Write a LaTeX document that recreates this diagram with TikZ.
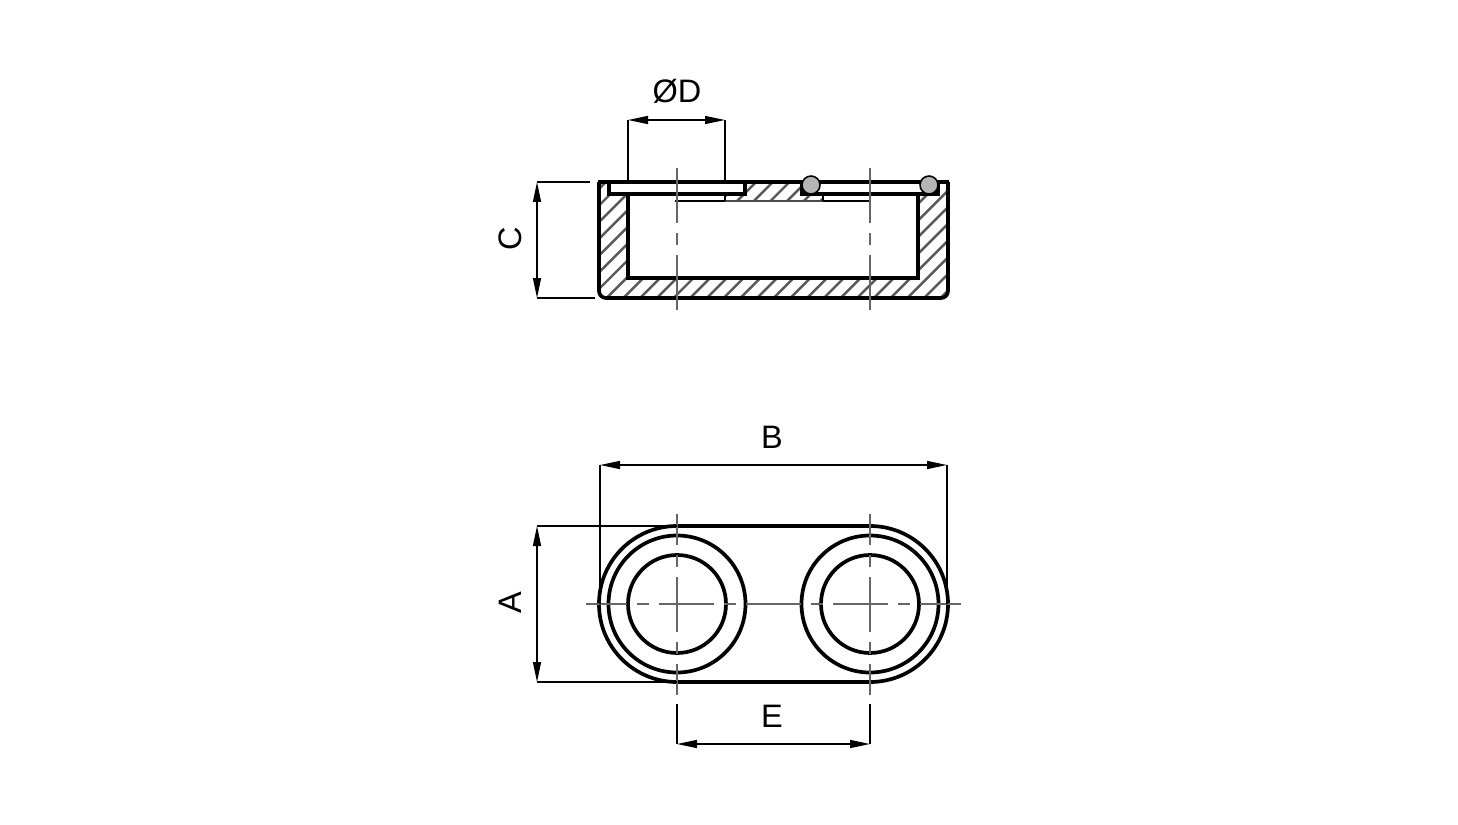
\documentclass[tikz,border=0pt]{standalone}
\usepackage{fontspec}
\setmainfont{Liberation Sans}
\usetikzlibrary{arrows.meta}
\definecolor{axisGray}{HTML}{666666}
\definecolor{ringGray}{HTML}{B5B5B5}
\tikzset{
  outline/.style={line width=2.1pt, black},
  heavy/.style={line width=2.5pt, black},
  thin line/.style={line width=0.8pt, black},
  hatch/.style={line width=1.4pt, black!65},
  axis/.style={line width=1.2pt, axisGray, dash pattern=on 1.1cm off 0.2cm on 0.24cm off 0.2cm},
  dim/.style={thin line, {Triangle[length=4mm,width=1.6mm]}-{Triangle[length=4mm,width=1.6mm]}},
  label/.style={font=\fontsize{18.5}{22}\selectfont, inner sep=0pt},
}
\newcommand{\drawDim}[7]{
  \coordinate (#1Start) at (#2);
  \coordinate (#1End) at (#3);
  \draw[thin line] (#4) -- (#1Start);
  \draw[thin line] (#5) -- (#1End);
  \draw[dim] (#1Start) -- (#1End);
  \node[label, #7] (#1Label) at (#6) {#1};
}
\newcommand{\drawAxis}[3]{
  \draw[axis, dash phase=#3] (#1) -- (#2);
}

\begin{document}
\begin{tikzpicture}[x=0.02cm, y=-0.02cm]
  \useasboundingbox (0,0) rectangle (1458,825);
  % Section
  \begin{scope}
    \clip (599,182) rectangle (948,298);
    \foreach \k in {-10,...,30}
      \draw[hatch] ({606.7+16.7*\k},298) -- ({606.7+16.7*\k+120},178);
  \end{scope}
  \fill[white] (628,194) -- (725,194) -- (725,201) -- (823,201) -- (823,194)
    -- (918,194) -- (918,278) -- (628,278) -- cycle;
  \draw[outline] (628,194) -- (628,278) -- (918,278) -- (918,194);
  \draw[thin line, black!70] (725,201) -- (823,201);
  \draw[line width=1.3pt] (675,201) -- (725,201);
  \draw[line width=1.3pt] (823,201) -- (870,201);
  \draw[line width=1.3pt] (725,194) -- (725,201);
  \draw[line width=1.3pt] (823,194) -- (823,201);
  \draw[outline, fill=white] (609,182) rectangle (745,194);
  \draw[outline, fill=white] (802,182) rectangle (938,194);
  \draw[outline, rounded corners=0.14cm] (599,240) -- (599,298) -- (948,298) -- (948,240);
  \draw[outline] (599,182) -- (599,240);
  \draw[outline] (948,182) -- (948,240);
  \draw[heavy] (598,182) -- (949,182);
  \node[circle, draw=black, line width=0.9pt, fill=ringGray, minimum size=0.36cm, inner sep=0pt] (ringLeft) at (811,185) {};
  \node[circle, draw=black, line width=0.9pt, fill=ringGray, minimum size=0.36cm, inner sep=0pt] (ringRight) at (929,185) {};
  \drawAxis{677,168}{677,310}{0cm}
  \drawAxis{870,168}{870,310}{0cm}
  % Plan
  \coordinate (holeLeft) at (677,604);
  \coordinate (holeRight) at (870,604);
  \draw[outline] (677,526) arc (270:90:78);
  \draw[outline] (870,682) arc (90:-90:78);
  \draw[heavy] (677,526) -- (870,526);
  \draw[heavy] (677,682) -- (870,682);
  \foreach \c in {holeLeft,holeRight} {
    \draw[outline] (\c) circle (68.5);
    \draw[outline] (\c) circle (49);
  }
  \drawAxis{586,604}{802,604}{0.28cm}
  \drawAxis{961,604}{745,604}{0.28cm}
  \drawAxis{677,514}{677,695}{0.48cm}
  \drawAxis{870,514}{870,695}{0.48cm}
  % Dimensions
  \drawDim{ØD}{628,120}{725,120}{628,182}{725,182}{677,91}{}
  \drawDim{C}{537,182}{537,298}{590,182}{595,298}{510,239}{rotate=90}
  \drawDim{B}{600,465}{947,465}{600,604}{947,604}{772,437}{}
  \drawDim{A}{537,526}{537,682}{677,526}{677,682}{510,603}{rotate=90}
  \drawDim{E}{677,744}{870,744}{677,704}{870,704}{772,716}{}
\end{tikzpicture}
\end{document}
